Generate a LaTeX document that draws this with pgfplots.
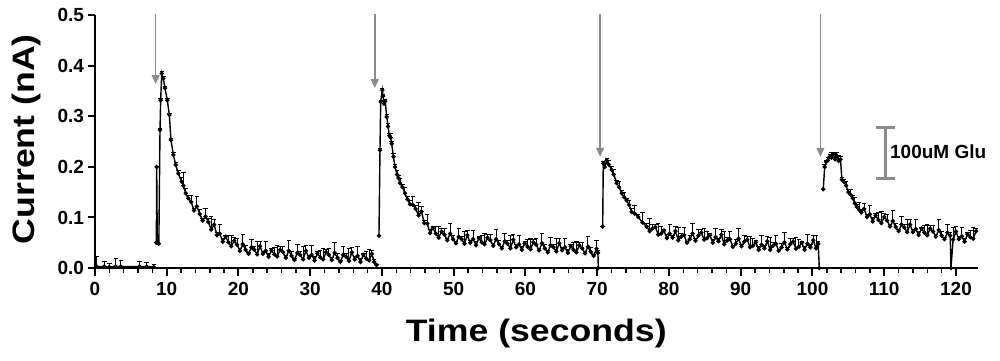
\documentclass[border=0pt]{standalone}
\usepackage{fontspec}
\setmainfont{Liberation Sans}
\usepackage{graphicx}
\usepackage{pgfplots}
\pgfplotsset{compat=1.18}
\usetikzlibrary{arrows.meta}
\definecolor{annot}{RGB}{140,140,140}

\begin{document}
\begin{tikzpicture}
\useasboundingbox (-95pt,-92pt) rectangle (905pt,268pt);
\begin{axis}[
  at={(0pt,0pt)}, anchor=origin,
  scale only axis, width=882.5pt, height=252.7pt,
  xmin=0, xmax=123, ymin=0, ymax=0.5,
  axis x line=bottom, axis y line=left,
  axis line style={-, line width=2.5pt},
  xtick={0,10,...,120}, minor x tick num=4,
  ytick={0,0.1,0.2,0.3,0.4,0.5},
  tick align=outside, major tick length=7.5pt, minor tick length=4.5pt,
  major tick style={line width=2pt, black},
  minor tick style={line width=1.5pt, black},
  /pgf/number format/assume math mode=true,
  xticklabel style={font=\fontsize{19}{21}\selectfont\bfseries, yshift=-3pt},
  yticklabel style={font=\fontsize{19}{21}\selectfont\bfseries,
    /pgf/number format/fixed, /pgf/number format/fixed zerofill,
    /pgf/number format/precision=1},
  xlabel={\scalebox{1.15}[1]{Time (seconds)}},
  ylabel={\scalebox{1.15}[1]{Current (nA)}},
  label style={font=\fontsize{31}{34}\selectfont\bfseries},
  xlabel style={at={(axis description cs:0.5,0)}, anchor=base, yshift=-73.7pt},
  ylabel style={at={(axis description cs:0,0.51)}, anchor=base, yshift=60pt},
  unbounded coords=jump,
  clip=false,
]
\addplot[black, line width=1.4pt, mark=*, mark size=1.4pt,
  error bars/.cd, y dir=plus, y explicit,
  error bar style={line width=1pt, black},
  error mark options={rotate=90, mark size=2.2pt, line width=1pt}]
  table[x=x, y=y, y error=e] {
x y e
0.2 0.003 0.019
1.3 0.003 0.009
2.0 0.002 0.006
2.9 0.003 0.015
3.6 0.003 0.012
6.2 0.003 0.009
7.2 0.003 0.007
8.2 0.002 0.004
8.4 nan 0
8.55 0.050 0
8.6 0.200 0
8.68 0.050 0
8.9 0.048 0
9.06 0.273 0.003
9.15 0.332 0.003
9.3 0.385 0.003
9.52 0.375 0.003
9.76 0.356 0.004
10.08 0.332 0.004
10.36 0.303 0.003
10.59 0.253 0.004
10.92 0.224 0.004
11.25 0.204 0.005
11.61 0.187 0.006
12.08 0.171 0.008
12.31 0.163 0.025
12.64 0.148 0.010
13.0 0.138 0.006
13.4 0.131 0.012
13.8 0.114 0.004
14.2 0.122 0.020
14.6 0.107 0.008
15.0 0.094 0.003
15.4 0.102 0.016
15.8 0.091 0.006
16.2 0.076 0.025
16.6 0.086 0.010
17.0 0.065 0.005
17.4 0.068 0.018
17.8 0.052 0.007
18.2 0.062 0.003
18.6 0.051 0.014
19.0 0.043 0.022
19.4 0.054 0.006
19.8 0.046 0.012
20.2 0.034 0.004
20.6 0.047 0.020
21.0 0.036 0.008
21.4 0.028 0.003
21.8 0.041 0.016
22.2 0.036 0.006
22.6 0.027 0.025
23.0 0.043 0.010
23.4 0.028 0.005
23.8 0.034 0.018
24.2 0.022 0.007
24.6 0.035 0.003
25.0 0.027 0.014
25.4 0.023 0.022
25.8 0.036 0.006
26.2 0.031 0.012
26.6 0.020 0.004
27.0 0.034 0.020
27.4 0.024 0.008
27.8 0.016 0.003
28.2 0.030 0.016
28.6 0.026 0.006
29.0 0.017 0.025
29.4 0.034 0.010
29.8 0.020 0.005
30.2 0.026 0.018
30.6 0.015 0.007
31.0 0.029 0.003
31.4 0.021 0.014
31.8 0.017 0.022
32.2 0.031 0.006
32.6 0.026 0.012
33.0 0.016 0.004
33.4 0.030 0.020
33.8 0.020 0.008
34.2 0.012 0.003
34.6 0.026 0.016
35.0 0.022 0.006
35.4 0.014 0.025
35.8 0.031 0.010
36.2 0.017 0.005
36.6 0.024 0.018
37.0 0.012 0.007
37.4 0.026 0.003
37.8 0.019 0.014
38.2 0.015 0.022
38.6 0.028 0.006
38.9 0.012 0.004
39.25 0.006 0
39.4 nan 0
39.58 0.064 0
39.72 0.233 0.003
39.82 0.329 0.003
40.04 0.352 0.004
40.15 0.340 0.004
40.28 0.325 0.005
40.45 0.330 0.004
40.66 0.299 0.004
40.85 0.280 0.006
41.02 0.262 0.005
41.2 0.258 0.008
41.35 0.246 0.004
41.6 0.220 0.006
41.81 0.200 0.005
42.1 0.185 0.008
42.3 0.178 0.006
42.51 0.168 0.010
42.85 0.160 0.006
43.2 0.148 0.012
43.55 0.136 0.005
43.9 0.126 0.008
44.3 0.125 0.016
44.7 0.117 0.006
45.1 0.104 0.025
45.5 0.112 0.010
45.9 0.089 0.005
46.3 0.088 0.018
46.7 0.069 0.007
47.1 0.079 0.003
47.5 0.068 0.014
47.9 0.060 0.022
48.3 0.072 0.006
48.7 0.066 0.012
49.1 0.055 0.004
49.5 0.068 0.020
49.9 0.057 0.008
50.3 0.049 0.003
50.7 0.062 0.016
51.1 0.057 0.006
51.5 0.048 0.025
51.9 0.065 0.010
52.3 0.050 0.005
52.7 0.057 0.018
53.1 0.045 0.007
53.5 0.059 0.003
53.9 0.051 0.014
54.3 0.047 0.022
54.7 0.060 0.006
55.1 0.055 0.012
55.5 0.044 0.004
55.9 0.057 0.020
56.3 0.047 0.008
56.7 0.039 0.003
57.1 0.053 0.016
57.5 0.048 0.006
57.9 0.039 0.025
58.3 0.056 0.010
58.7 0.041 0.005
59.1 0.047 0.018
59.5 0.036 0.007
59.9 0.049 0.003
60.3 0.042 0.014
60.7 0.037 0.022
61.1 0.051 0.006
61.5 0.046 0.012
61.9 0.035 0.004
62.3 0.049 0.020
62.7 0.039 0.008
63.1 0.031 0.003
63.5 0.045 0.016
63.9 0.041 0.006
64.3 0.033 0.025
64.7 0.049 0.010
65.1 0.035 0.005
65.5 0.041 0.018
65.9 0.030 0.007
66.3 0.043 0.003
66.7 0.036 0.014
67.1 0.031 0.022
67.5 0.045 0.006
67.9 0.039 0.012
68.3 0.029 0.004
68.7 0.042 0.020
69.1 0.032 0.008
69.5 0.024 0.003
69.9 0.038 0.016
70.1 0.030 0.004
70.15 0.0 0
70.45 nan 0
70.76 0.082 0
70.84 0.207 0.004
71.05 0.200 0.006
71.32 0.213 0.004
71.6 0.205 0.008
72.01 0.194 0.006
72.3 0.185 0.010
72.71 0.168 0.005
73.05 0.160 0.012
73.41 0.148 0.006
73.75 0.140 0.010
74.1 0.134 0.004
74.45 0.125 0.008
74.8 0.111 0.006
75.2 0.108 0.015
75.72 0.101 0.005
76.3 0.090 0.020
76.89 0.082 0.006
77.3 0.073 0.025
77.7 0.078 0.008
78.1 0.081 0.006
78.5 0.066 0.022
78.9 0.068 0.014
79.3 0.074 0.003
79.7 0.059 0.007
80.1 0.068 0.018
80.5 0.060 0.005
80.9 0.073 0.010
81.3 0.055 0.025
81.7 0.062 0.006
82.1 0.065 0.016
82.5 0.050 0.003
82.9 0.057 0.008
83.3 0.068 0.020
83.7 0.054 0.004
84.1 0.064 0.012
84.5 0.070 0.006
84.9 0.056 0.022
85.3 0.059 0.014
85.7 0.065 0.003
86.1 0.050 0.007
86.5 0.061 0.018
86.9 0.053 0.005
87.3 0.066 0.010
87.7 0.047 0.025
88.1 0.054 0.006
88.5 0.057 0.016
88.9 0.042 0.003
89.3 0.048 0.008
89.7 0.058 0.020
90.1 0.043 0.004
90.5 0.052 0.012
90.9 0.056 0.006
91.3 0.041 0.022
91.7 0.044 0.014
92.1 0.051 0.003
92.5 0.036 0.007
92.9 0.046 0.018
93.3 0.039 0.005
93.7 0.053 0.010
94.1 0.036 0.025
94.5 0.044 0.006
94.9 0.048 0.016
95.3 0.034 0.003
95.7 0.041 0.008
96.1 0.051 0.020
96.5 0.037 0.004
96.9 0.047 0.012
97.3 0.052 0.006
97.7 0.038 0.022
98.1 0.042 0.014
98.5 0.050 0.003
98.9 0.036 0.007
99.3 0.048 0.018
99.7 0.041 0.005
100.1 0.055 0.010
100.5 0.039 0.025
100.8 0.048 0.004
100.95 0.0 0
101.2 nan 0
101.5 0.156 0
101.7 0.200 0.004
101.9 0.210 0.003
102.15 0.213 0.006
102.4 0.220 0.005
102.65 0.218 0.010
102.9 0.225 0.004
103.15 0.215 0.012
103.4 0.222 0.006
103.65 0.212 0.010
103.9 0.215 0.005
104.1 0.175 0.004
104.4 0.170 0.006
104.7 0.163 0.008
105.0 0.150 0.005
105.3 0.145 0.010
105.6 0.138 0.006
105.9 0.128 0.012
106.2 0.121 0.005
106.5 0.115 0.015
106.8 0.110 0.006
107.2 0.117 0.010
107.6 0.101 0.005
108.0 0.106 0.018
108.4 0.092 0.007
108.8 0.104 0.003
109.2 0.095 0.014
109.6 0.089 0.022
110.0 0.101 0.006
110.4 0.094 0.012
110.8 0.082 0.004
111.2 0.093 0.020
111.6 0.081 0.008
112.0 0.073 0.003
112.4 0.086 0.016
112.8 0.080 0.006
113.2 0.071 0.025
113.6 0.086 0.010
114.0 0.071 0.005
114.4 0.077 0.018
114.8 0.065 0.007
115.2 0.078 0.003
115.6 0.070 0.014
116.0 0.065 0.022
116.4 0.078 0.006
116.8 0.072 0.012
117.2 0.062 0.004
117.6 0.075 0.020
118.0 0.064 0.008
118.4 0.057 0.003
118.8 0.070 0.016
119.2 0.064 0.006
119.3 0.0 0
119.6 0.056 0.025
120.0 0.072 0.010
120.4 0.057 0.005
120.8 0.063 0.018
121.2 0.052 0.007
121.6 0.067 0.003
122.0 0.061 0.014
122.4 0.058 0.022
122.8 0.073 0.006
};
% stimulus arrows
\draw[annot, line width=1.4pt, -{Triangle[width=8pt,length=9pt]}] (axis cs:8.46,0.503) -- (axis cs:8.46,0.364);
\draw[annot, line width=1.4pt, -{Triangle[width=8pt,length=9pt]}] (axis cs:39.0,0.503) -- (axis cs:39.0,0.356);
\draw[annot, line width=1.4pt, -{Triangle[width=8pt,length=9pt]}] (axis cs:70.4,0.503) -- (axis cs:70.4,0.220);
\draw[annot, line width=1.4pt, -{Triangle[width=8pt,length=9pt]}] (axis cs:101.1,0.503) -- (axis cs:101.1,0.220);
% scale bar
\draw[annot, line width=3pt] (axis cs:110.2,0.178) -- (axis cs:110.2,0.279);
\draw[annot, line width=3pt] (axis cs:108.9,0.279) -- (axis cs:111.5,0.279);
\draw[annot, line width=3pt] (axis cs:108.9,0.178) -- (axis cs:111.5,0.178);
\node[anchor=west, inner sep=0pt, font=\fontsize{19}{22}\selectfont\bfseries] at (axis cs:110.8,0.23) {100uM Glu};
\end{axis}
\end{tikzpicture}
\end{document}
